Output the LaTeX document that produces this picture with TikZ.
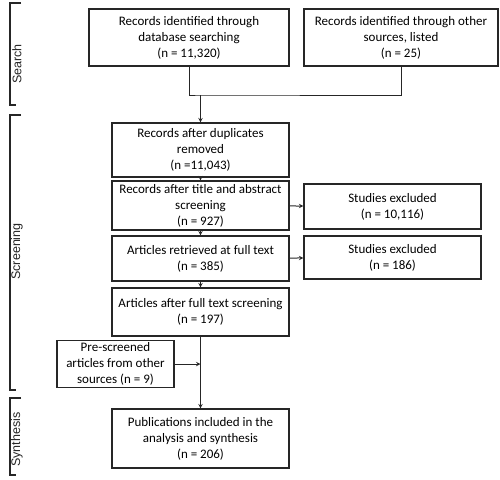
\documentclass[tikz,border=0pt]{standalone}
\usepackage{fontspec}
\setmainfont{Carlito}
\newfontfamily\phasefont{Liberation Sans}
\usepackage{xcolor}
\usepackage{tikz}

\definecolor{edge}{HTML}{262626}

\tikzset{
  box/.style={draw=edge, line width=1.2pt, align=center, inner sep=2pt,
    font=\fontsize{13}{16}\selectfont},
  arr/.style={->, >=stealth, line width=1pt, draw=edge},
  phase/.style={rotate=90, font=\phasefont\fontsize{12.5}{14}\selectfont, text=edge},
}

\begin{document}
\begin{tikzpicture}[x=1pt, y=-1pt]
        \useasboundingbox (0, 0) rectangle (500, 479);

        % search
        \node[box, minimum width=200pt, minimum height=57pt] (db) at (189, 37.5)
            {Records identified through\\database searching\\(n = 11,320)};
        \node[box, minimum width=194pt, minimum height=57pt] (other) at (401, 37.5)
            {Records identified through other\\sources, listed\\(n = 25)};

        % screening
        \node[box, minimum width=177pt, minimum height=54pt] (dup) at (200.5, 150)
            {Records after duplicates\\removed\\(n =11,043)};
        \node[box, minimum width=177pt, minimum height=49pt] (title) at (200.5, 205.5)
            {Records after title and abstract\\screening\\(n = 927)};
        \node[box, minimum width=177pt, minimum height=45pt] (full) at (200.5, 258.5)
            {Articles retrieved at full text\\(n = 385)};
        \node[box, minimum width=177pt, minimum height=48pt] (after) at (200.5, 312)
            {Articles after full text screening\\(n = 197)};
        \node[box, minimum width=177pt, minimum height=45pt] (exA) at (392.5, 206.5)
            {Studies excluded\\(n = 10,116)};
        \node[box, minimum width=177pt, minimum height=43pt] (exB) at (392.5, 257.5)
            {Studies excluded\\(n = 186)};
        \node[box, minimum width=117pt, minimum height=44pt] (pre) at (115.5, 364)
            {Pre-screened\\articles from other\\sources (n = 9)};

        % synthesis
        \node[box, minimum width=177pt, minimum height=59pt] (pub) at (200.5, 438.5)
            {Publications included in the\\analysis and synthesis\\(n = 206)};

        % connectors
        \coordinate (join) at (dup.north |- 0, 95);
        \draw[line width=1pt, draw=edge] (db.south) |- (join) -| (other.south);
        \draw[arr] (join) -- (dup.north);
        \draw[arr] (dup) -- (title);
        \draw[arr] (title) -- (full);
        \draw[arr] (full) -- (after);
        \draw[arr] (title) -- (exA);
        \draw[arr] (full) -- (exB);
        \draw[arr] (after) -- (pub);
        \coordinate (merge) at (after.south |- pre.east);
        \draw[arr] (pre.east) -- (merge);

        % phase brackets
        \foreach \top/\bot/\mid/\name in {3/105/64/Search, 115/390/251.5/Screening, 398/475/439.5/Synthesis} {
            \draw[line width=1.2pt, draw=edge] (21, \top) -- (10, \top) -- (10, \bot) -- (16, \bot);
            \node[phase] at (17, \mid) {\name};
        }
    \end{tikzpicture}
\end{document}
